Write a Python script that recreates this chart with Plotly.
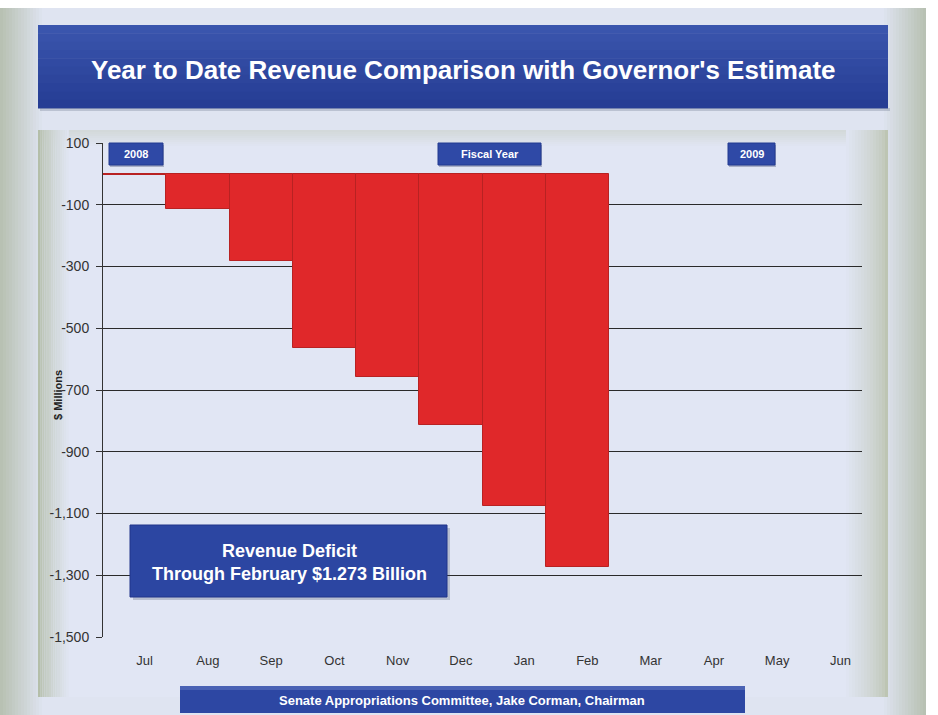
import plotly.graph_objects as go

months = ["Jul", "Aug", "Sep", "Oct", "Nov", "Dec", "Jan", "Feb", "Mar", "Apr", "May", "Jun"]
deficit = [-3, -114, -282, -564, -658, -812, -1076, -1273, None, None, None, None]
y_ticks = [100, -100, -300, -500, -700, -900, -1100, -1300, -1500]
y_tick_labels = ["100", "-100", "-300", "-500", "-700", "-900", "-1,100", "-1,300", "-1,500"]

title_text = "Year to Date Revenue Comparison with Governor's Estimate"
callout_text = "Revenue Deficit<br>Through February $1.273 Billion"
footer_text = "Senate Appropriations Committee, Jake Corman, Chairman"
year_tags = [("2008", 109, 163), ("Fiscal Year", 438, 541), ("2009", 728, 775)]

W, H = 938, 715
L, R, T, B = 103, 862, 143, 637


def px(x):
    return (x - L) / (R - L)


def py(y):
    return (B - y) / (B - T)


def mix(c1, c2, t):
    a = [int(c1[i:i + 2], 16) for i in (1, 3, 5)]
    b = [int(c2[i:i + 2], 16) for i in (1, 3, 5)]
    return "#" + "".join(f"{round(a[k] + (b[k] - a[k]) * t):02x}" for k in range(3))


shapes = []


def rect(x0, y0, x1, y1, color, layer="below", line=None):
    shapes.append(dict(type="rect", xref="paper", yref="paper",
                       x0=px(x0), x1=px(x1), y0=py(y1), y1=py(y0),
                       fillcolor=color, layer=layer,
                       line=line or dict(width=0)))


bg = "#dfe4f1"
edge = "#b8c1b3"
# slide background
rect(0, 0, W, H, "#ffffff")
rect(0, 8, 926, H, bg)
n = 14
for i in range(n):
    t = i / n
    rect(i * 3, 8, i * 3 + 3, H, mix(edge, bg, t))
    rect(926 - (i + 1) * 3, 8, 926 - i * 3, H, mix(edge, bg, t))

# chart panel
panel = "#e1e6f4"
rect(38, 130, 888, 697, panel)
for i in range(8):
    t = i / 8
    rect(38, 130 + i * 2, 888, 130 + (i + 1) * 2, mix("#d3d9da", panel, t))
for i in range(n):
    t = i / n
    rect(38 + i * 2.2, 130, 38 + (i + 1) * 2.2, 697, mix("#b4bea9", panel, t ** 0.7))
    rect(888 - (i + 1) * 3, 130, 888 - i * 3, 697, mix("#bdc5b3", panel, t ** 0.7))

# title banner
for i in range(10):
    rect(38, 25 + i * 8.3, 888, 25 + (i + 1) * 8.3 + 0.5, mix("#3a55ad", "#263d94", i / 9))
rect(40, 108, 890, 111, "rgba(80,90,120,0.25)")

# callout box
rect(133, 528, 450, 600, "rgba(60,70,100,0.25)", layer="above")
rect(130, 525, 447, 597, "#2c46a2", layer="above", line=dict(color="#20358a", width=1))

# footer box
rect(180, 686, 745, 713, "#2d47a3", layer="above")
rect(180, 686, 745, 690, "#4a62b4", layer="above")

# year tags
for label, x0, x1 in year_tags:
    rect(x0 + 1, 145, x1 + 1, 167, "rgba(40,50,90,0.3)", layer="above")
    rect(x0, 143, x1, 165, "#2f49a6", layer="above", line=dict(color="#223a90", width=1))

annotations = [
    dict(text=f"<b>{title_text}</b>", x=px(463), y=py(70), xref="paper", yref="paper",
         showarrow=False, font=dict(family="Liberation Sans, Arial", size=26, color="white"),
         xanchor="center", yanchor="middle"),
    dict(text=f"<b>{callout_text}</b>", x=px(289), y=py(562), xref="paper", yref="paper",
         showarrow=False, font=dict(family="Liberation Sans, Arial", size=18, color="white"),
         xanchor="center", yanchor="middle", align="center"),
    dict(text=f"<b>{footer_text}</b>", x=px(462), y=py(700), xref="paper", yref="paper",
         showarrow=False, font=dict(family="Liberation Sans, Arial", size=13, color="white"),
         xanchor="center", yanchor="middle"),
    dict(text="<b>$ Millions</b>", x=px(58), y=py(395), xref="paper", yref="paper",
         showarrow=False, textangle=-90, font=dict(family="Liberation Sans, Arial", size=11, color="#222"),
         xanchor="center", yanchor="middle"),
]
for label, x0, x1 in year_tags:
    annotations.append(dict(text=f"<b>{label}</b>", x=px((x0 + x1) / 2), y=py(154),
                            xref="paper", yref="paper", showarrow=False,
                            font=dict(family="Liberation Sans, Arial", size=11, color="white"),
                            xanchor="center", yanchor="middle"))

fig = go.Figure()
fig.add_trace(go.Bar(
    x=months, y=deficit,
    marker=dict(color="#e0282a", line=dict(color="#b82222", width=1)),
    width=1.0, hoverinfo="x+y",
))

fig.update_layout(
    width=W, height=H,
    margin=dict(l=L, r=W - R, t=T, b=H - B, autoexpand=False),
    paper_bgcolor="#ffffff",
    plot_bgcolor="rgba(0,0,0,0)",
    showlegend=False,
    bargap=0,
    shapes=shapes,
    annotations=annotations,
    xaxis=dict(
        type="category", range=[-0.5, 11.5], showgrid=False, zeroline=False,
        showline=False, ticks="", ticklabelshift=10, ticklabelstandoff=14,
        tickfont=dict(family="Liberation Sans, Arial", size=13, color="#333"),
        fixedrange=True,
    ),
    yaxis=dict(
        range=[-1500, 100], tickvals=y_ticks, ticktext=y_tick_labels,
        showgrid=True, gridcolor="#2a2a2a", gridwidth=1,
        zeroline=False, showline=True, linecolor="#333", linewidth=1,
        ticks="outside", ticklen=6, tickcolor="#333", ticklabelstandoff=4,
        tickfont=dict(family="Liberation Sans, Arial", size=14, color="#333"),
        fixedrange=True,
    ),
)

fig.write_html("out.html", post_script="document.body.style.margin='0';",
               config={"displayModeBar": False})
